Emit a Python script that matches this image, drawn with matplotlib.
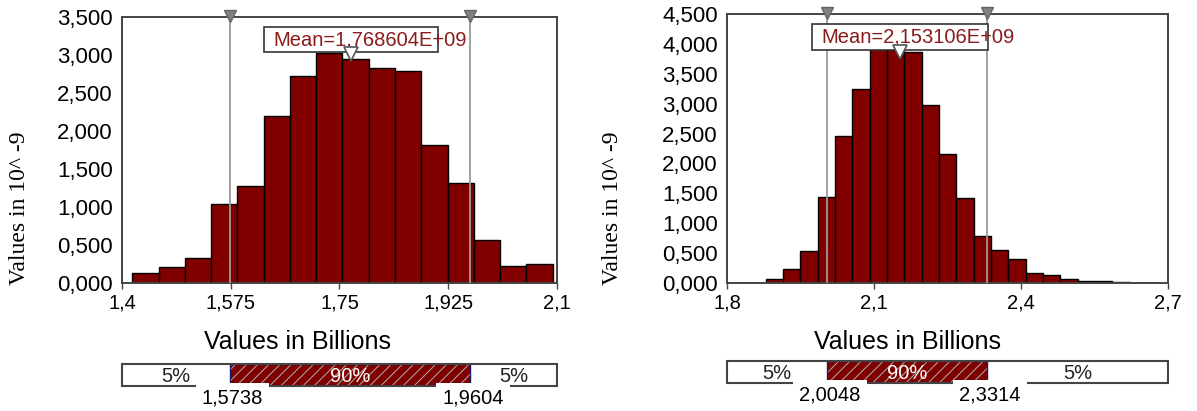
import numpy as np
import matplotlib
matplotlib.use('Agg')
import matplotlib.pyplot as plt
from matplotlib.patches import Rectangle
from matplotlib.transforms import blended_transform_factory

plt.rcParams['font.family'] = ['Liberation Sans', 'DejaVu Sans']
plt.rcParams['hatch.linewidth'] = 0.7
plt.rcParams['hatch.color'] = '#b0b0b0'

# ---- left histogram (values in billions, density in 10^-9)
left_start = 1.4167
left_width = 0.04226
left_heights = [0.132, 0.215, 0.329, 1.04, 1.27, 2.20, 2.73, 3.03,
                2.95, 2.83, 2.79, 1.81, 1.32, 0.566, 0.228, 0.246]
left_xlim = (1.4, 2.1)
left_xticks = [1.4, 1.575, 1.75, 1.925, 2.1]
left_xticklabels = ['1,4', '1,575', '1,75', '1,925', '2,1']
left_yticks = [0, 0.5, 1, 1.5, 2, 2.5, 3, 3.5]
left_mean = 1.768604
left_mean_label = 'Mean=1,768604E+09'
left_pct = [1.5738, 1.9604]
left_pct_labels = ['1,5738', '1,9604']

# ---- right histogram
right_start = 1.879
right_width = 0.03536
right_heights = [0.067, 0.236, 0.534, 1.444, 2.46, 3.25, 3.98, 3.89, 3.87,
                 2.97, 2.16, 1.42, 0.787, 0.556, 0.404, 0.169, 0.129,
                 0.073, 0.028, 0.028, 0.02]
right_xlim = (1.8, 2.7)
right_xticks = [1.8, 2.1, 2.4, 2.7]
right_xticklabels = ['1,8', '2,1', '2,4', '2,7']
right_yticks = [0, 0.5, 1, 1.5, 2, 2.5, 3, 3.5, 4, 4.5]
right_mean = 2.153106
right_mean_label = 'Mean=2,153106E+09'
right_pct = [2.0048, 2.3314]
right_pct_labels = ['2,0048', '2,3314']

band_labels = ['5%', '90%', '5%']

BAR = '#800000'
FRAME = '#444444'
W, H = 1197, 411


def draw(ax, bax, start, width, heights, xlim, xticks, xticklabels, yticks,
         mean, mean_label, pct, pct_labels):
    edges = start + width * np.arange(len(heights))
    ax.bar(edges, heights, width=width, align='edge', color=BAR,
           edgecolor='black', linewidth=1.0, zorder=2)
    ax.set_xlim(*xlim)
    ax.set_ylim(yticks[0], yticks[-1])
    ax.set_xticks(xticks)
    ax.set_xticklabels(xticklabels, fontsize=14.5)
    ax.set_yticks(yticks)
    ax.set_yticklabels([f'{v:.3f}'.replace('.', ',') for v in yticks], fontsize=16)
    ax.tick_params(axis='y', length=0, pad=6.5)
    ax.tick_params(axis='x', length=4, width=1, color=FRAME, pad=3.5)
    for s in ax.spines.values():
        s.set_color(FRAME)
        s.set_linewidth(1.4)

    trans = blended_transform_factory(ax.transData, ax.transAxes)
    for p in pct:
        ax.plot([p, p], [0, 1], transform=trans, color='#9a9a9a', lw=1.3, zorder=3)
        ax.plot(p, 1.005, marker='v', ms=9, mfc='#808080', mec='#666666',
                transform=trans, clip_on=False, zorder=6)

    span = xlim[1] - xlim[0]
    bx = mean - 0.2 * span
    ax.add_patch(Rectangle((bx, 0.867), 0.4 * span, 0.094, transform=trans,
                           facecolor='white', edgecolor='#333333', lw=1.2, zorder=4))
    ax.text(bx + 0.022 * span, 0.914, mean_label, transform=trans, color='#8b1a1a',
            fontsize=14.5, ha='left', va='center', zorder=5)
    ax.plot(mean, 0.86, marker='v', ms=10, mfc='white', mec='#555555', mew=1.2,
            transform=trans, clip_on=False, zorder=6)

    # percentile band below the chart
    bax.set_xlim(*xlim)
    bax.set_ylim(0, 1)
    bax.axis('off')
    lefts = [xlim[0], pct[0], pct[1]]
    widths = [pct[0] - xlim[0], pct[1] - pct[0], xlim[1] - pct[1]]
    bax.barh(0.5, widths, left=lefts, height=1, color=['white', BAR, 'white'],
             edgecolor=['white', '#b0b0b0', 'white'], hatch=['', '///', ''], lw=0)
    bax.barh(0.5, widths[1], left=lefts[1], height=1, fill=False,
             edgecolor='#1a1a66', lw=1.0)
    bax.add_patch(Rectangle((0, 0), 1, 1, transform=bax.transAxes, fill=False,
                            edgecolor=FRAME, lw=1.5, clip_on=False))
    colors = ['#222222', 'white', '#222222']
    for l, w, lab, c in zip(lefts, widths, band_labels, colors):
        bax.text(l + w / 2, 0.45, lab, color=c, fontsize=14.5, ha='center', va='center')
    for p, lab in zip(pct, pct_labels):
        bax.text(p + 0.006 * span, -0.55, lab, fontsize=14.5, ha='center', va='center',
                 bbox=dict(boxstyle='square,pad=0.3', fc='white', ec='none'),
                 clip_on=False)


fig = plt.figure(figsize=(W / 100, H / 100), dpi=100)
ax1 = fig.add_axes([122 / W, 1 - 283 / H, 435 / W, 266 / H])
bax1 = fig.add_axes([122 / W, 1 - 386 / H, 435 / W, 22 / H])
ax2 = fig.add_axes([727 / W, 1 - 283 / H, 441 / W, 269 / H])
bax2 = fig.add_axes([727 / W, 1 - 383 / H, 441 / W, 22 / H])

draw(ax1, bax1, left_start, left_width, left_heights, left_xlim, left_xticks,
     left_xticklabels, left_yticks, left_mean, left_mean_label, left_pct, left_pct_labels)
draw(ax2, bax2, right_start, right_width, right_heights, right_xlim, right_xticks,
     right_xticklabels, right_yticks, right_mean, right_mean_label, right_pct, right_pct_labels)

for x in (297, 907):
    fig.text(x / W, 1 - 342 / H, 'Values in Billions', fontsize=18, ha='center', va='center')
for x in (20, 612):
    fig.text(x / W, 1 - 208 / H, 'Values in 10^ -9', rotation=90, fontsize=17,
             family='Liberation Serif', ha='center', va='center')

fig.savefig('out.png', dpi=100)
